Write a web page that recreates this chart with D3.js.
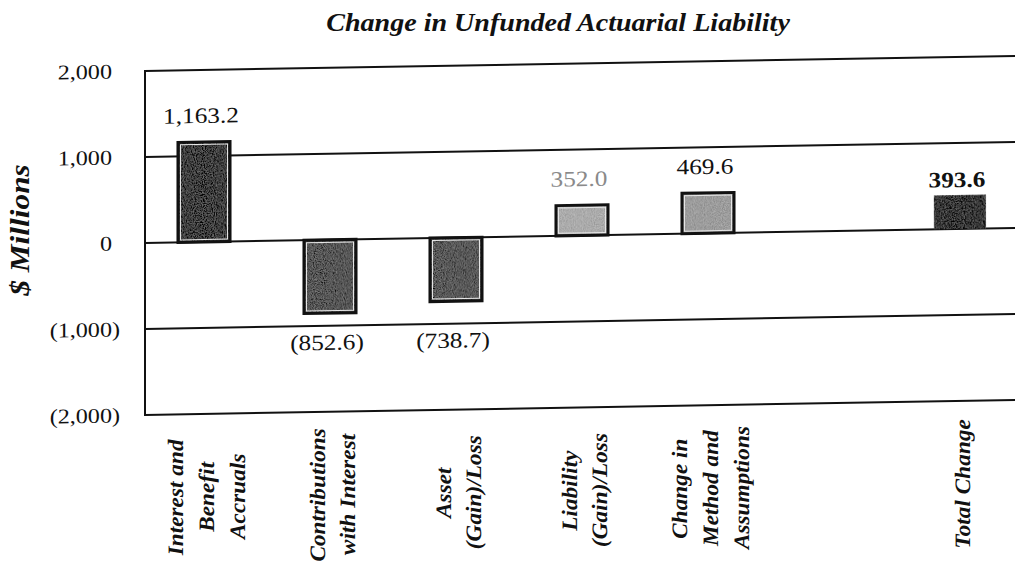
<!DOCTYPE html>
<html>
<head>
<meta charset="utf-8">
<script src="https://cdn.jsdelivr.net/npm/d3@7"></script>
<style>
	html, body { margin: 0; padding: 0; background: #fff; }
</style>
</head>
<body>
<div id="chart-area"></div>
<script>
/******************************
*	DATA					  *
******************************/
// one empty slot between "Change in Method" and "Total Change"
var categories = [
	"Interest and\nBenefit\nAccruals",
	"Contributions\nwith Interest",
	"Asset\n(Gain)/Loss",
	"Liability\n(Gain)/Loss",
	"Change in\nMethod and\nAssumptions",
	"",
	"Total Change"
];
var values = [1163.2, -852.6, -738.7, 352.0, 469.6, null, 393.6];
var valueLabels = ["1,163.2", "(852.6)", "(738.7)", "352.0", "469.6", "", "393.6"];
var yTicks = [2000, 1000, 0, -1000, -2000];
var yTickLabels = ["2,000", "1,000", "0", "(1,000)", "(2,000)"];

var barColors = ["#3e3e3e", "#565656", "#585858", "#ababab", "#9c9c9c", null, "#363636"];

/******************************
*	DIMENSIONS AND MARGINS	  *
******************************/
var W = 1015, H = 571;
var plotLeft = 145, plotRight = 1035, plotTop = 71, plotBottom = 415;
var stretch = 1.15;	// the scan is wider than the font
var serif = "'Liberation Serif', 'Times New Roman', Times, serif";

var svg = d3.select("#chart-area")
	.append("svg")
		.attr("width", W)
		.attr("height", H)
		.attr("font-family", serif)
		.style("display", "block");

// grainy fill like the scanned print
var grain = svg.append("defs").append("filter")
	.attr("id", "grain")
	.attr("x", 0).attr("y", 0).attr("width", 1).attr("height", 1);
grain.append("feTurbulence")
	.attr("type", "fractalNoise")
	.attr("baseFrequency", 0.9)
	.attr("numOctaves", 2)
	.attr("seed", 4)
	.attr("result", "noise");
grain.append("feColorMatrix")
	.attr("in", "noise")
	.attr("type", "matrix")
	.attr("values", "1 0 0 0 0  1 0 0 0 0  1 0 0 0 0  0 0 0 0 1")
	.attr("result", "mono");
grain.append("feComposite")
	.attr("in", "SourceGraphic")
	.attr("in2", "mono")
	.attr("operator", "arithmetic")
	.attr("k1", 0).attr("k2", 1).attr("k3", 0.35).attr("k4", -0.175)
	.attr("result", "mix");
grain.append("feComposite")
	.attr("in", "mix")
	.attr("in2", "SourceGraphic")
	.attr("operator", "in");

// whole scan is slightly sheared
var g = svg.append("g")
	.attr("transform", "translate(" + plotLeft + ",0) skewY(-0.99) translate(" + (-plotLeft) + ",0)");

// helper: place text with horizontal stretch
function place(sel, px, py, rot, sx) {
	sel.attr("transform", "translate(" + px + "," + py + ")" + (rot ? " rotate(" + rot + ")" : "") + " scale(" + sx + ",1)");
	return sel;
}

/******************************
*	SCALES					  *
******************************/
var x = d3.scaleBand()
	.domain(d3.range(categories.length))
	.range([141, 1023])
	.paddingInner(0.587)
	.paddingOuter(0.2935);

var y = d3.scaleLinear()
	.domain([-2000, 2000])
	.range([plotBottom, plotTop]);

/******************************
*	GRID AND AXIS			  *
******************************/
g.selectAll("line.grid")
	.data(yTicks)
	.enter().append("line")
		.attr("class", "grid")
		.attr("x1", plotLeft)
		.attr("x2", plotRight)
		.attr("y1", function(d) { return y(d); })
		.attr("y2", function(d) { return y(d); })
		.attr("stroke", "#111")
		.attr("stroke-width", 2);

g.append("line")
	.attr("x1", plotLeft).attr("x2", plotLeft)
	.attr("y1", y(2000) - 1).attr("y2", y(-2000) + 1)
	.attr("stroke", "#111")
	.attr("stroke-width", 2);

// tick labels, accounting style (paren hangs to the right)
var tickFont = 21;
yTicks.forEach(function(d, i) {
	var tx = 112 + (d < 0 ? 0.333 * tickFont * stretch : 0);
	place(g.append("text"), tx, y(d) + 7, 0, stretch)
		.attr("text-anchor", "end")
		.attr("font-size", tickFont)
		.attr("fill", "#111")
		.text(yTickLabels[i]);
});

/******************************
*	BARS					  *
******************************/
var idx = d3.range(values.length).filter(function(i) { return values[i] !== null; });
var last = values.length - 1;

var bars = g.selectAll("g.bar")
	.data(idx)
	.enter().append("g")
		.attr("class", "bar");

bars.append("rect")
	.attr("x", function(i) { return x(i); })
	.attr("y", function(i) { return y(Math.max(0, values[i])); })
	.attr("width", x.bandwidth())
	.attr("height", function(i) { return Math.abs(y(values[i]) - y(0)); })
	.attr("fill", function(i) { return barColors[i]; })
	.attr("filter", "url(#grain)");

bars.filter(function(i) { return i !== last; })
	.append("rect")
		.attr("x", function(i) { return x(i); })
		.attr("y", function(i) { return y(Math.max(0, values[i])); })
		.attr("width", x.bandwidth())
		.attr("height", function(i) { return Math.abs(y(values[i]) - y(0)); })
		.attr("fill", "none")
		.attr("stroke", "#111")
		.attr("stroke-width", 3);

// thin light inner edge
bars.filter(function(i) { return i !== last; })
	.append("rect")
		.attr("x", function(i) { return x(i) + 2.5; })
		.attr("y", function(i) { return y(Math.max(0, values[i])) + 2.5; })
		.attr("width", x.bandwidth() - 5)
		.attr("height", function(i) { return Math.abs(y(values[i]) - y(0)) - 5; })
		.attr("fill", "none")
		.attr("stroke", "#e6e6e6")
		.attr("stroke-width", 1);

/******************************
*	VALUE LABELS			  *
******************************/
idx.forEach(function(i) {
	var v = values[i];
	var cx = x(i) + x.bandwidth() / 2 - 3;
	var ty;
	if (v < 0) ty = y(-1000) + 24;
	else if (i === last) ty = y(v) - 8;
	else ty = y(v) - 19;
	place(g.append("text"), cx, ty, 0, stretch)
		.attr("text-anchor", "middle")
		.attr("font-size", 22)
		.attr("font-weight", i === last ? "bold" : "normal")
		.attr("fill", i === 3 ? "#8a8a8a" : "#111")
		.text(valueLabels[i]);
});

/******************************
*	CATEGORY LABELS			  *
******************************/
var lineGap = 31;
categories.forEach(function(c, i) {
	if (!c) return;
	var lines = c.split("\n");
	var cx = x(i) + x.bandwidth() / 2;
	var t = g.append("text")
		.attr("text-anchor", "middle")
		.attr("font-size", 22)
		.attr("font-weight", "bold")
		.attr("font-style", "italic")
		.attr("fill", "#111");
	lines.forEach(function(l, k) {
		t.append("tspan")
			.attr("x", 0)
			.attr("y", 0)
			.attr("dy", k * lineGap)
			.text(l);
	});
	var bx = cx - (lines.length - 1) / 2 * lineGap + 10;
	place(t, bx, 498, -90, 1.06);
});

/******************************
*	TITLE AND Y LABEL		  *
******************************/
place(svg.append("text"), 558, 31, 0, 1.08)
	.attr("text-anchor", "middle")
	.attr("font-size", 26)
	.attr("font-weight", "bold")
	.attr("font-style", "italic")
	.attr("fill", "#111")
	.text("Change in Unfunded Actuarial Liability");

place(svg.append("text"), 29, 230, -90, 1.12)
	.attr("text-anchor", "middle")
	.attr("font-size", 28)
	.attr("font-weight", "bold")
	.attr("font-style", "italic")
	.attr("fill", "#111")
	.text("$ Millions");
</script>
</body>
</html>
